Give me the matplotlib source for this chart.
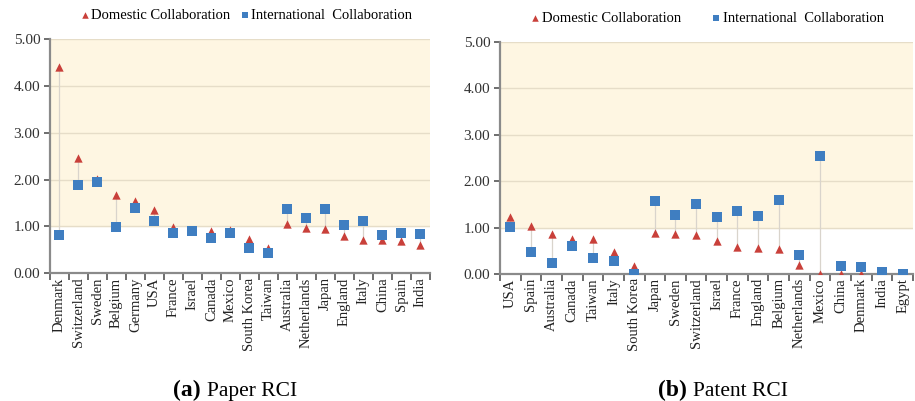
import matplotlib
matplotlib.use('Agg')
import matplotlib.pyplot as plt
import numpy as np

plt.rcParams['font.family'] = ['Liberation Serif', 'DejaVu Serif']

# Paper RCI by country
paper_countries = ['Denmark', 'Switzerland', 'Sweden', 'Belgium', 'Germany', 'USA',
                   'France', 'Israel', 'Canada', 'Mexico', 'South Korea', 'Taiwan',
                   'Australia', 'Netherlands', 'Japan', 'England', 'Italy', 'China',
                   'Spain', 'India']
paper_domestic = [4.40, 2.47, 2.01, 1.66, 1.54, 1.35, 0.99, 0.90, 0.91, 0.92, 0.73, 0.54,
                  1.06, 0.97, 0.95, 0.80, 0.72, 0.70, 0.68, 0.61]
paper_international = [0.81, 1.88, 1.94, 0.99, 1.39, 1.12, 0.86, 0.91, 0.76, 0.87, 0.53, 0.43,
                       1.37, 1.18, 1.37, 1.04, 1.12, 0.81, 0.87, 0.83]

# Patent RCI by country
patent_countries = ['USA', 'Spain', 'Australia', 'Canada', 'Taiwan', 'Italy', 'South Korea',
                    'Japan', 'Sweden', 'Switzerland', 'Israel', 'France', 'England',
                    'Belgium', 'Netherlands', 'Mexico', 'China', 'Denmark', 'India', 'Egypt']
patent_domestic = [1.22, 1.04, 0.87, 0.76, 0.75, 0.47, 0.18, 0.88, 0.86, 0.85, 0.72, 0.58,
                   0.56, 0.53, 0.20, 0.0, 0.0, 0.0, 0.0, 0.0]
patent_international = [1.01, 0.48, 0.24, 0.60, 0.34, 0.29, 0.0, 1.58, 1.28, 1.51, 1.23, 1.35,
                        1.24, 1.60, 0.42, 2.55, 0.18, 0.16, 0.04, 0.0]

RED = '#C9403A'
BLUE = '#3F7EC1'
BAND = '#FEF6E2'
GRID = '#E6DDC8'
SPINE = '#8A8A8A'


def draw_panel(ax, countries, dom, intl):
    x = np.arange(len(countries))
    ax.set_xlim(-0.5, len(countries) - 0.5)
    ax.set_ylim(0, 5)
    ax.axhspan(1, 5, color=BAND, zorder=0)
    for v in [1, 2, 3, 4, 5]:
        ax.axhline(v, color=GRID, lw=1.0, zorder=1)
    lo = np.minimum(dom, intl)
    hi = np.maximum(dom, intl)
    ax.vlines(x, lo, hi, color='#D9D4CC', lw=0.9, zorder=2)
    ax.scatter(x, dom, marker='^', s=36, color=RED, zorder=3, linewidths=0)
    ax.scatter(x, intl, marker='s', s=44, color=BLUE, zorder=4, linewidths=0)

    ax.set_yticks([0, 1, 2, 3, 4, 5])
    ax.set_yticklabels(['%.2f' % v for v in range(6)], fontsize=11, color='#333333')
    ax.set_xticks(x)
    ax.set_xticklabels(countries, rotation=90, fontsize=10.5, color='#222222')
    ax.tick_params(axis='x', length=0, pad=3)
    ax.set_xticks(np.arange(len(countries) + 1) - 0.5, minor=True)
    ax.tick_params(axis='x', which='minor', length=5, width=1.2, color='#555555')
    ax.tick_params(axis='y', length=4, width=1.2, color='#555555', pad=3)
    for s in ['top', 'right']:
        ax.spines[s].set_visible(False)
    for s in ['left', 'bottom']:
        ax.spines[s].set_color(SPINE)
        ax.spines[s].set_linewidth(1.6)


fig = plt.figure(figsize=(9.15, 4.01), dpi=100)
ax1 = fig.add_axes([0.0546, 0.3185, 0.4153, 0.5843])
ax2 = fig.add_axes([0.5464, 0.3167, 0.4514, 0.579])
draw_panel(ax1, paper_countries, paper_domestic, paper_international)
draw_panel(ax2, patent_countries, patent_domestic, patent_international)

# legends above each panel
for ax, gap, cx in [(ax1, 0.6, 0.515), (ax2, 2.0, 0.5)]:
    h1 = ax.scatter([], [], marker='^', s=22, color=RED, linewidths=0)
    h2 = ax.scatter([], [], marker='s', s=22, color=BLUE, linewidths=0)
    ax.legend([h1, h2], ['Domestic Collaboration', 'International  Collaboration'],
              loc='lower center', bbox_to_anchor=(cx, 1.0), ncol=2, frameon=False,
              fontsize=10.5, handletextpad=0.05, columnspacing=gap,
              handlelength=0.8, borderaxespad=0.75)

# panel captions
fig.text(0.189, 0.012, '(a)', fontsize=17, fontweight='bold', ha='left', va='baseline')
fig.text(0.226, 0.012, 'Paper RCI', fontsize=15.5, ha='left', va='baseline')
fig.text(0.719, 0.012, '(b)', fontsize=17, fontweight='bold', ha='left', va='baseline')
fig.text(0.757, 0.012, 'Patent RCI', fontsize=15.5, ha='left', va='baseline')

fig.savefig('out.png', dpi=100)
